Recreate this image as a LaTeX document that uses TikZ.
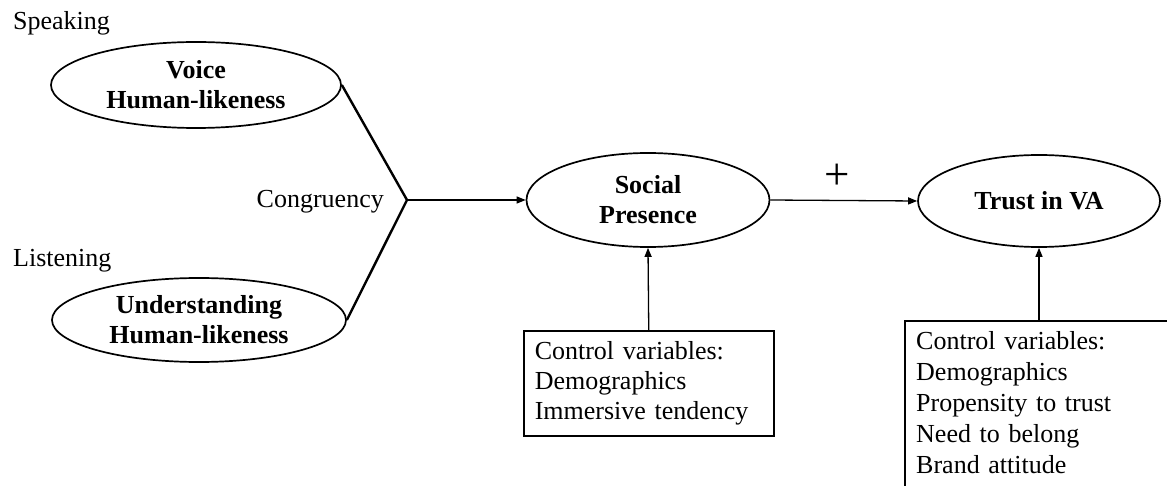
\documentclass[tikz,border=0pt]{standalone}
\usepackage{fontspec}
\setmainfont{Liberation Serif}
\usetikzlibrary{arrows.meta,shapes.geometric}
\begin{document}
\begin{tikzpicture}[x=1pt,y=-1pt,
  lbl/.style={font=\fontsize{26}{30}\selectfont, inner sep=0pt},
  construct/.style={ellipse, draw, line width=1.7pt, inner sep=0pt, align=center, font=\fontsize{26}{30}\selectfont\bfseries},
  ctrl/.style={align=left, anchor=north west, inner xsep=11pt},
  boxline/.style={line width=1.5pt},
  link/.style={line width=1.3pt, -{Triangle[length=9pt,width=7pt]}},
  joinline/.style={line width=2.4pt}
]
\clip (0,0) rectangle (1167,486);
\node[construct, minimum width=290pt, minimum height=86pt] (voice) at (196,85) {Voice\\Human-likeness};
\node[construct, minimum width=294pt, minimum height=84pt] (under) at (199,320) {Understanding\\Human-likeness};
\node[construct, minimum width=243pt, minimum height=94pt] (social) at (648,200) {Social\\Presence};
\node[construct, minimum width=242pt, minimum height=92pt] (trust) at (1039,201) {Trust in VA};

\node[lbl, anchor=west] (speak) at (13,23) {Speaking};
\node[lbl, anchor=west] (listen) at (13,261) {Listening};
\node[lbl, anchor=east] (cong) at (384,202) {Congruency};

\coordinate (v) at (407,200);
\draw[joinline] (voice.east) -- (v) -- (under.east);
\draw[link] (v) -- (social.west);
\draw[link] (social.east) -- (trust.west);
\node[font=\fontsize{45}{45}\selectfont, inner sep=0pt] (plus) at (837,177) {+};

\node[ctrl, draw, boxline, font=\fontsize{26}{30}\selectfont, text width=228pt, minimum height=105pt] (c1) at (523,330) {Control variables:\\Demographics\\Immersive tendency};
\node[ctrl, font=\fontsize{26}{31}\selectfont, text width=260pt, inner ysep=10pt] (c2) at (905,321) {Control variables:\\Demographics\\Propensity to trust\\Need to belong\\Brand attitude};
\draw[boxline] (c2.north west) rectangle ([yshift=-30pt]c2.south east);

\draw[link] (c1.north) -- (social.south);
\draw[link] (c2.north -| trust.south) -- (trust.south);
\end{tikzpicture}
\end{document}
